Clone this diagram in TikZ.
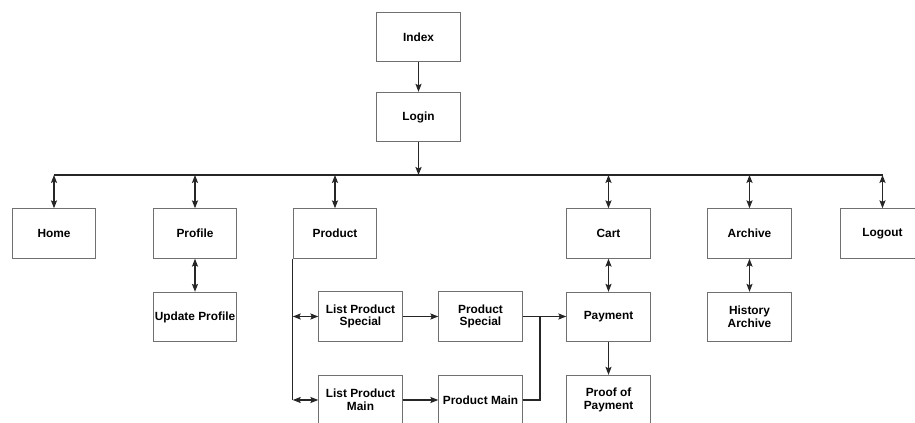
\documentclass[tikz,border=0pt]{standalone}
\usepackage{fontspec}
\setmainfont{Liberation Sans}
\usetikzlibrary{arrows.meta}
\definecolor{boxline}{HTML}{707070}
\definecolor{conn}{HTML}{262626}
\begin{document}
\begin{tikzpicture}[x=0.75pt,y=-0.75pt,
  page/.style={draw=boxline,line width=0.8pt,fill=white,minimum width=62.5pt,minimum height=37pt,
    inner sep=1pt,align=center,font=\fontsize{8.9}{9.6}\selectfont\bfseries},
  tip/.tip={Stealth[length=6pt,width=4.6pt,inset=1.2pt]},
  link/.style={draw=conn,line width=0.8pt,-tip},
  both/.style={draw=conn,line width=0.8pt,tip-tip},
  bus/.style={draw=conn,line width=0.95pt}]
\useasboundingbox (0,0) rectangle (915,423);
\clip (0,0) rectangle (915,423);

% pages
\node[page] (index)   at (418.5,37)  {Index};
\node[page] (login)   at (418.5,117) {Login};
\node[page] (home)    at (54,233.5)  {Home};
\node[page] (profile) at (195,233.5) {Profile};
\node[page] (product) at (335,233.5) {Product};
\node[page] (cart)    at (608.5,233.5) {Cart};
\node[page] (archive) at (749.5,233.5) {Archive};
\node[page] (logout)  at (882.5,233.5) {Logout};
\node[page] (update)  at (195,317)   {Update Profile};
\node[page] (lps)     at (360.5,316.5) {List Product\\Special};
\node[page] (ps)      at (480.5,316.5) {Product\\Special};
\node[page] (payment) at (608.5,317) {Payment};
\node[page] (history) at (749.5,317) {History\\Archive};
\node[page] (lpm)     at (360.5,400) {List Product\\Main};
\node[page] (pm)      at (480.5,400) {Product Main};
\node[page] (proof)   at (608.5,400) {Proof of\\Payment};

% menu bus
\coordinate (busL) at (54,175);
\coordinate (busR) at (882.5,175);
\draw[bus] (busL) -- (busR);
\coordinate (busLogin) at (418.5,175);
\draw[link,line width=1.3pt] (login) -- (busLogin);
\draw[link] (index) -- (login);

\foreach \n in {home,profile,product,cart,archive,logout}{
  \draw[both] (\n.north |- busL) -- (\n.north);
}

\draw[both] (profile) -- (update);
\draw[both] (archive) -- (history);
\draw[both] (cart) -- (payment);
\draw[link] (payment) -- (proof);

% product branch
\coordinate (trunk) at (product.south west);
\coordinate (trunkEnd) at (product.south west |- lpm);
\draw[draw=conn,line width=0.8pt] (trunk) -- (trunkEnd);
\draw[both] (trunk |- lps) -- (lps.west);
\draw[both] (trunk |- lpm) -- (lpm.west);
\draw[link] (lps) -- (ps);
\draw[link] (lpm) -- (pm);

% merge into payment
\coordinate (merge) at (540,316.5);
\draw[draw=conn,line width=0.8pt] (pm.east) -- (merge |- pm.east) -- (merge);
\draw[link] (ps.east) -- (payment.west |- ps.east);
\end{tikzpicture}
\end{document}
